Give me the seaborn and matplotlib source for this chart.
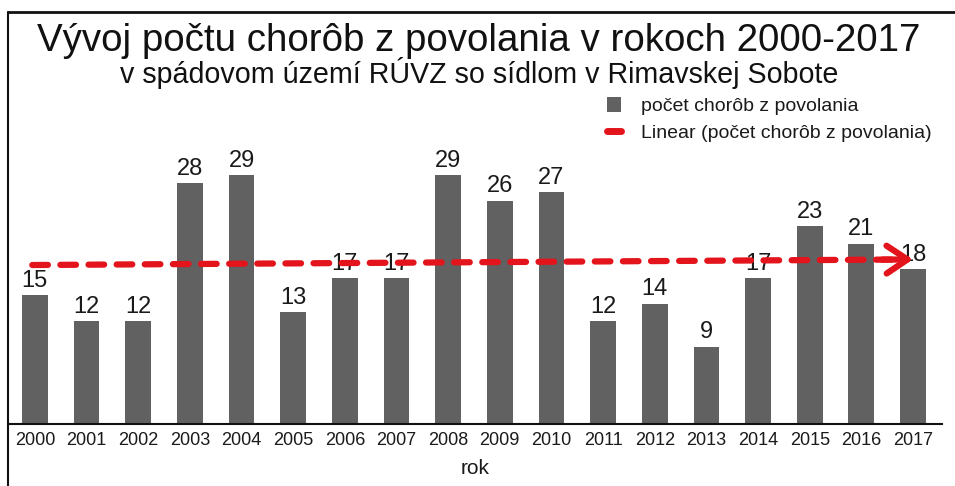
import matplotlib
matplotlib.use("Agg")
import matplotlib.pyplot as plt
import seaborn as sns
import numpy as np
import pandas as pd
from matplotlib.lines import Line2D
from matplotlib.patches import Patch

years = ["2000", "2001", "2002", "2003", "2004", "2005", "2006", "2007", "2008",
         "2009", "2010", "2011", "2012", "2013", "2014", "2015", "2016", "2017"]
counts = [15, 12, 12, 28, 29, 13, 17, 17, 29, 26, 27, 12, 14, 9, 17, 23, 21, 18]

title = "Vývoj počtu chorôb z povolania v rokoch 2000-2017"
subtitle = "v spádovom území RÚVZ so sídlom v Rimavskej Sobote"
series_label = "počet chorôb z povolania"
trend_label = "Linear (počet chorôb z povolania)"
xlabel = "rok"

sns.set_theme(style="white")
plt.rcParams['font.family'] = ['Liberation Sans', 'DejaVu Sans']

W, H = 955, 486
fig = plt.figure(figsize=(W / 100, H / 100), dpi=100)
fig.patch.set_facecolor("white")

# axes: left 8px, right 942px, bottom y=424, top y=90
ax = fig.add_axes([8 / W, 1 - 424 / H, (942 - 8) / W, (424 - 90) / H])
df = pd.DataFrame({"year": years, "count": counts})
bar_color = "#616161"
sns.barplot(data=df, x="year", y="count", color=bar_color, width=0.5,
            saturation=1, ax=ax, edgecolor="none")

ax.set_xlim(-0.52, 17.56)
ax.set_ylim(0, (424 - 90) / 8.59)

for i, v in enumerate(counts):
    ax.annotate(str(v), (i, v), xytext=(0, 6), textcoords="offset points",
                ha="center", va="baseline", fontsize=17, color="#1a1a1a")

# linear trend
xs = np.arange(len(counts))
k, b = np.polyfit(xs, counts, 1)
x0, x1 = -0.05, 17.0
red = "#e3141b"
xe = x1 - 0.2
ax.plot([x0, xe], [k * x0 + b, k * xe + b], color=red, lw=4.5,
        dashes=(2.5, 2.0), solid_capstyle="round", dash_capstyle="round", zorder=5)
ax.annotate("", xy=(x1, k * x1 + b), xytext=(x1 - 0.6, k * (x1 - 0.6) + b),
            arrowprops=dict(arrowstyle="->,head_length=0.75,head_width=0.5",
                            color=red, lw=4.5, mutation_scale=20,
                            shrinkA=0, shrinkB=0), zorder=6)

for s in ["top", "right", "left"]:
    ax.spines[s].set_visible(False)
ax.spines["bottom"].set_color("#111111")
ax.spines["bottom"].set_linewidth(1.5)
ax.set_yticks([])
ax.tick_params(axis="x", length=0, pad=6, labelsize=13, labelcolor="#1a1a1a")
ax.set_xlabel(xlabel, fontsize=15, color="#1a1a1a", labelpad=7)
ax.set_ylabel("")

# legend
handles = [Patch(facecolor=bar_color, edgecolor="none"),
           Line2D([0], [0], color=red, lw=5, solid_capstyle="round")]
leg = fig.legend(handles, [series_label, trend_label], loc="upper left",
                 bbox_to_anchor=(589 / W, 1 - 80 / H), frameon=False,
                 fontsize=14, handlelength=0.75, handleheight=0.75,
                 labelspacing=0.45, handletextpad=1.0, labelcolor="#1a1a1a")

# titles
fig.text(479 / W, 1 - 41 / H, title, ha="center", va="center", fontsize=27.7,
         color="#111111")
fig.text(479 / W, 1 - 73 / H, subtitle, ha="center", va="center", fontsize=20.6,
         color="#111111")

# frame lines (left and top)
fig.add_artist(Line2D([8 / W, 8 / W], [0, 1 - 12 / H], transform=fig.transFigure,
                      color="#111111", lw=1.5))
fig.add_artist(Line2D([8 / W, 1], [1 - 12 / H, 1 - 12 / H], transform=fig.transFigure,
                      color="#111111", lw=2))

fig.savefig("out.png", dpi=100, facecolor="white")
